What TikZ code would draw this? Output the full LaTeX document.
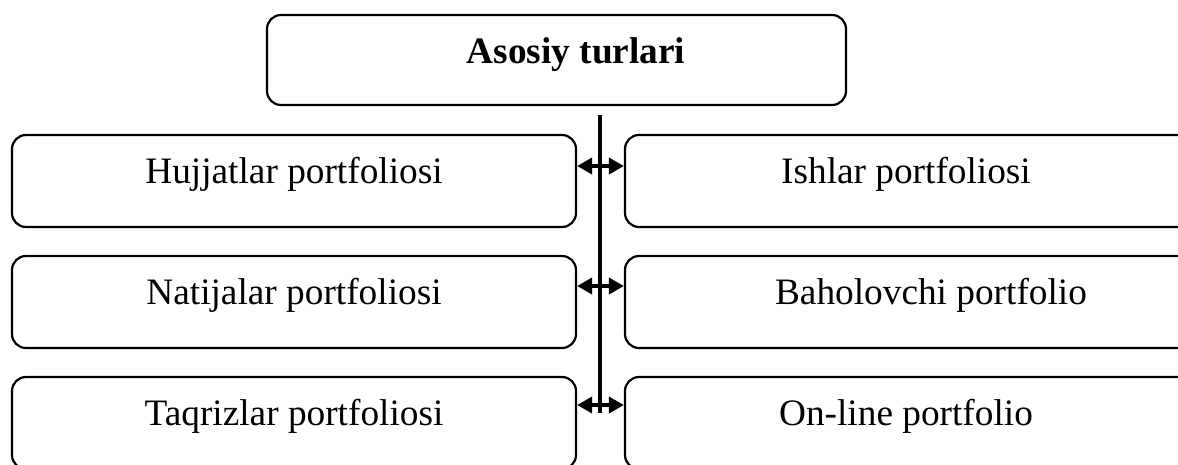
\documentclass[tikz,border=0pt]{standalone}
\usepackage{fontspec}
\setmainfont{Liberation Serif}
\usetikzlibrary{arrows.meta}
\begin{document}
\begin{tikzpicture}[x=1pt,y=-1pt,
  box/.style={draw,line width=2.2pt,rounded corners=14pt,rectangle,inner sep=0pt,minimum height=92pt},
  lbl/.style={anchor=base,inner sep=0pt,font=\fontsize{37.3}{44}\selectfont},
  link/.style={line width=3.6pt,{Triangle[length=15pt,width=16pt]}-{Triangle[length=15pt,width=16pt]}}]
\useasboundingbox (0,0) rectangle (1178,464);
\clip (0,0) rectangle (1178,464);
% top box
\node[box,minimum width=579pt,minimum height=90pt] (top) at (556.5,60) {};
\node[lbl,font=\fontsize{37.3}{44}\selectfont\bfseries] (toptxt) at (576,63) {Asosiy turlari};
% left boxes
\node[box,minimum width=564pt] (l1) at (294,181) {};
\node[box,minimum width=564pt] (l2) at (294,302) {};
\node[box,minimum width=564pt] (l3) at (294,423) {};
% right boxes
\node[box,minimum width=612pt] (r1) at (931,181) {};
\node[box,minimum width=612pt] (r2) at (931,302) {};
\node[box,minimum width=612pt] (r3) at (931,423) {};
% texts
\node[lbl] (t1) at (294,183) {Hujjatlar portfoliosi};
\node[lbl] (t2) at (294,304) {Natijalar portfoliosi};
\node[lbl] (t3) at (294,425) {Taqrizlar portfoliosi};
\node[lbl] (u1) at (906,183) {Ishlar portfoliosi};
\node[lbl] (u2) at (931,304) {Baholovchi portfolio};
\node[lbl] (u3) at (906,425) {On-line portfolio};
% vertical line
\coordinate (vtop) at (600,115);
\coordinate (vbot) at (600,413);
\draw[line width=3.2pt] (vtop) -- (vbot);
% arrows
\draw[link] ([yshift=15pt]l1.east) -- ([yshift=15pt]r1.west);
\draw[link] ([yshift=16pt]l2.east) -- ([yshift=16pt]r2.west);
\draw[link] ([yshift=18pt]l3.east) -- ([yshift=18pt]r3.west);
\end{tikzpicture}
\end{document}
